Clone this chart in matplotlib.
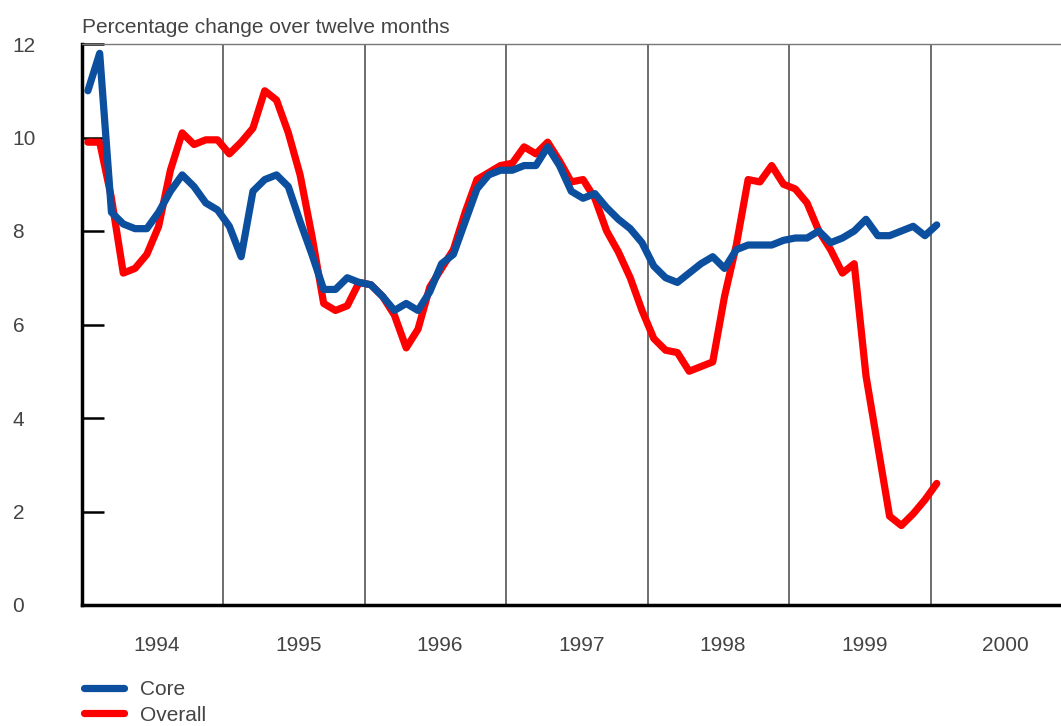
import numpy as np
import pandas as pd
import matplotlib
matplotlib.use('Agg')
import matplotlib.pyplot as plt

plt.rcParams['font.family'] = ['Liberation Sans', 'DejaVu Sans']

# monthly observations, Jan 1994 .. Jan 2000
months = pd.date_range('1994-01-01', '2000-01-01', freq='MS')

core = [11.0, 11.8, 8.4, 8.15, 8.05, 8.05, 8.4, 8.85, 9.2, 8.95, 8.6, 8.45,
        8.1, 7.45, 8.85, 9.1, 9.2, 8.95, 8.2, 7.5, 6.75, 6.75, 7.0, 6.9,
        6.85, 6.6, 6.3, 6.45, 6.3, 6.7, 7.3, 7.5, 8.2, 8.9, 9.2, 9.3,
        9.3, 9.4, 9.4, 9.8, 9.4, 8.85, 8.7, 8.8, 8.5, 8.25, 8.05, 7.75,
        7.25, 7.0, 6.9, 7.1, 7.3, 7.45, 7.2, 7.6, 7.7, 7.7, 7.7, 7.8,
        7.85, 7.85, 8.0, 7.75, 7.85, 8.0, 8.25, 7.9, 7.9, 8.0, 8.1, 7.9,
        8.13]

overall = [9.9, 9.9, 8.7, 7.1, 7.2, 7.5, 8.1, 9.3, 10.1, 9.85, 9.95, 9.95,
           9.65, 9.9, 10.2, 11.0, 10.8, 10.1, 9.2, 7.9, 6.45, 6.3, 6.4, 6.9,
           6.85, 6.6, 6.2, 5.5, 5.9, 6.8, 7.2, 7.6, 8.4, 9.1, 9.25, 9.4,
           9.45, 9.8, 9.65, 9.9, 9.5, 9.05, 9.1, 8.7, 8.0, 7.55, 7.0, 6.3,
           5.7, 5.45, 5.4, 5.0, 5.1, 5.2, 6.6, 7.7, 9.1, 9.05, 9.4, 9.0,
           8.9, 8.6, 8.0, 7.6, 7.1, 7.3, 4.9, 3.4, 1.9, 1.7, 1.95, 2.25,
           2.6]

years = [1994, 1995, 1996, 1997, 1998, 1999, 2000]
yticks = [0, 2, 4, 6, 8, 10, 12]

# decimal-year position of each month (mid-month)
x = months.year + (months.month - 0.5) / 12

fig = plt.figure(figsize=(10.61, 7.26), dpi=100)
ax = fig.add_axes([82 / 1061, 121 / 726, 979 / 1061, 561 / 726])

for yr in years[1:]:
    ax.axvline(yr, color='#555555', linewidth=1.2, zorder=1)

ax.plot(x, overall, color='#ff0000', linewidth=5.2, solid_joinstyle='round',
        solid_capstyle='round', label='Overall', zorder=3)
ax.plot(x, core, color='#0b4f9e', linewidth=5.2, solid_joinstyle='round',
        solid_capstyle='round', label='Core', zorder=4)

ax.set_xlim(1994.0, 2000.92)
ax.set_ylim(0, 12)

ax.set_xticks([y + 0.53 for y in years])
ax.set_xticklabels([str(y) for y in years])
ax.set_yticks(yticks)
ax.set_yticklabels([str(v) for v in yticks], ha='left')

ax.tick_params(axis='y', direction='in', length=16, width=1.8, color='black',
               pad=50, labelsize=15, labelcolor='#444444')
ax.tick_params(axis='x', length=0, pad=22, labelsize=15, labelcolor='#444444')

ax.spines['right'].set_visible(False)
ax.spines['left'].set_linewidth(2.5)
ax.spines['bottom'].set_linewidth(2.5)
ax.spines['top'].set_linewidth(1)
ax.spines['top'].set_color('#777777')

ax.text(0.0, 1.012, 'Percentage change over twelve months', transform=ax.transAxes,
        fontsize=15, color='#444444', ha='left', va='bottom')

handles, labels = ax.get_legend_handles_labels()
leg = ax.legend(handles[::-1], labels[::-1], loc='upper left',
                bbox_to_anchor=(76 / 1061, 1 - 672 / 726),
                bbox_transform=fig.transFigure, frameon=False, fontsize=15,
                handlelength=1.9, handletextpad=0.75, labelspacing=0.3,
                borderaxespad=0)
for t in leg.get_texts():
    t.set_color('#444444')

fig.savefig('out.png', dpi=100)
